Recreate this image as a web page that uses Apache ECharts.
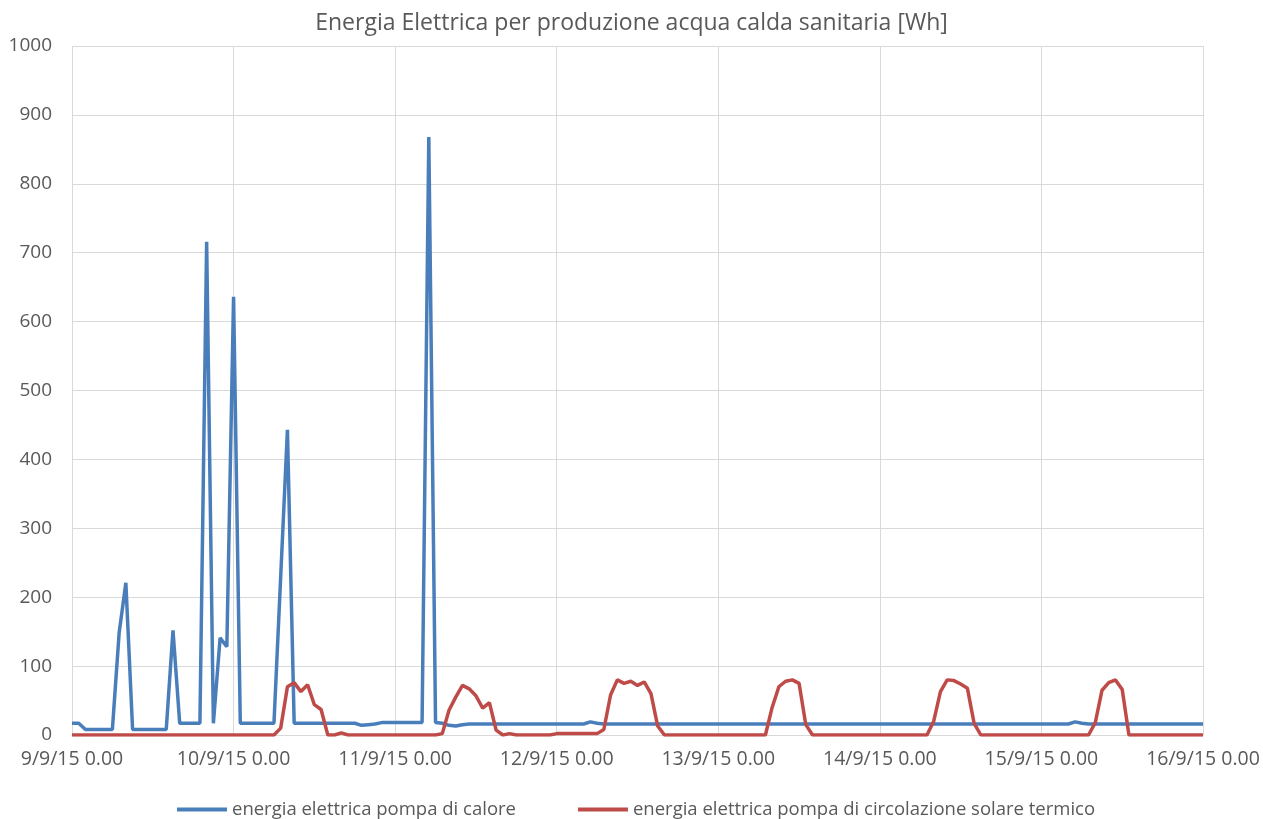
<!DOCTYPE html>
<html>
<head>
<meta charset="utf-8">
<script src="https://cdn.jsdelivr.net/npm/echarts@6/dist/echarts.min.js"></script>
<style>html,body{margin:0;padding:0;background:#fff}#c{width:1263px;height:819px}</style>
</head>
<body>
<div id="c"></div>
<script>
// Hourly readings from 9/9/15 0.00 (hour 0) to 16/9/15 0.00 (hour 168)
const tickLabels = ['9/9/15 0.00','10/9/15 0.00','11/9/15 0.00','12/9/15 0.00','13/9/15 0.00','14/9/15 0.00','15/9/15 0.00','16/9/15 0.00'];
const seriesNames = ['energia elettrica pompa di calore','energia elettrica pompa di circolazione solare termico'];
const pompaCalore = [
  17,17,8,8,8,8,8,148,221,8,8,8,8,8,8,152,17,17,17,17,716,17,141,128,
  636,17,17,17,17,17,17,230,443,17,17,17,17,17,17,17,17,17,17,14,15,16,18,18,
  18,18,18,18,18,868,18,17,14,13,15,16,16,16,16,16,16,16,16,16,16,16,16,16,
  16,16,16,16,16,19,17,16,16,16,16,16,16,16,16,16,16,16,16,16,16,16,16,16,
  16,16,16,16,16,16,16,16,16,16,16,16,16,16,16,16,16,16,16,16,16,16,16,16,
  16,16,16,16,16,16,16,16,16,16,16,16,16,16,16,16,16,16,16,16,16,16,16,16,
  16,16,16,16,16,19,17,16,16,16,16,16,16,16,16,16,16,16,16,16,16,16,16,16,
  16
];
const pompaSolare = [
  0,0,0,0,0,0,0,0,0,0,0,0,0,0,0,0,0,0,0,0,0,0,0,0,
  0,0,0,0,0,0,0,10,70,76,63,73,44,37,0,0,3,0,0,0,0,0,0,0,
  0,0,0,0,0,0,0,2,36,55,72,67,57,39,47,7,0,2,0,0,0,0,0,0,
  2,2,2,2,2,2,2,8,58,80,75,78,72,77,60,13,0,0,0,0,0,0,0,0,
  0,0,0,0,0,0,0,0,40,70,78,80,75,15,0,0,0,0,0,0,0,0,0,0,
  0,0,0,0,0,0,0,0,20,63,80,79,74,68,17,0,0,0,0,0,0,0,0,0,
  0,0,0,0,0,0,0,0,18,65,76,80,66,0,0,0,0,0,0,0,0,0,0,0,
  0
];

const font = '"Open Sans", sans-serif';
const grey = '#595959';
const gridColor = '#d9d9d9';
const chart = echarts.init(document.getElementById('c'), null, {renderer: 'canvas'});
chart.setOption({
  animation: false,
  backgroundColor: '#ffffff',
  title: {
    text: 'Energia Elettrica per produzione acqua calda sanitaria [Wh]',
    left: 'center', top: 7,
    textStyle: {fontFamily: font, fontSize: 23, fontWeight: 'normal', color: grey}
  },
  legend: {
    top: 795, left: 172,
    icon: 'rect', itemWidth: 50, itemHeight: 4, itemGap: 62,
    textStyle: {fontFamily: font, fontSize: 18.5, color: grey},
    data: seriesNames
  },
  grid: {left: 72, right: 60, top: 46, bottom: 84},
  xAxis: {
    type: 'value', min: 0, max: 168, interval: 24,
    axisLine: {show: true, lineStyle: {color: gridColor, width: 1}},
    axisTick: {show: false},
    splitLine: {show: true, lineStyle: {color: gridColor, width: 1}},
    axisLabel: {
      fontFamily: font, fontSize: 19.5, color: grey, margin: 14,
      showMinLabel: true, showMaxLabel: true, hideOverlap: false,
      formatter: v => tickLabels[Math.round(v / 24)]
    }
  },
  yAxis: {
    type: 'value', min: 0, max: 1000, interval: 100,
    axisLine: {show: false}, axisTick: {show: false},
    splitLine: {show: true, lineStyle: {color: gridColor, width: 1}},
    axisLabel: {fontFamily: font, fontSize: 19, color: grey, margin: 20, formatter: v => String(v)}
  },
  series: [
    {
      name: seriesNames[0], type: 'line', symbol: 'none',
      data: pompaCalore.map((v, i) => [i, v]),
      lineStyle: {color: '#4a7ebb', width: 3.5}, itemStyle: {color: '#4a7ebb'}, z: 3
    },
    {
      name: seriesNames[1], type: 'line', symbol: 'none',
      data: pompaSolare.map((v, i) => [i, v]),
      lineStyle: {color: '#be4b48', width: 3.5}, itemStyle: {color: '#be4b48'}, z: 4
    }
  ]
});
</script>
</body>
</html>
